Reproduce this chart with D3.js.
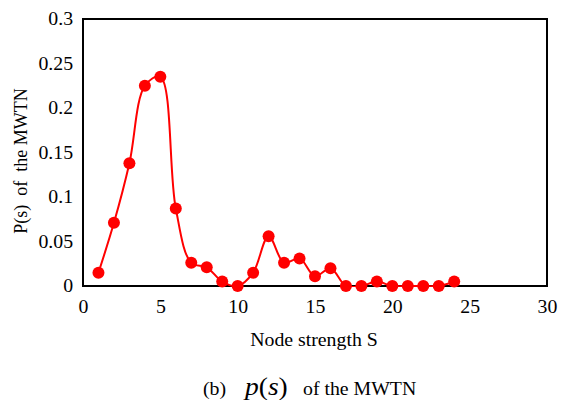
<!DOCTYPE html>
<html>
<head>
<meta charset="utf-8">
<script src="https://cdn.jsdelivr.net/npm/d3@7"></script>
<style>
  body { margin: 0; background: #fff; }
  svg text { font-family: "Liberation Serif", "Times New Roman", "DejaVu Serif", serif !important; fill: #000; }
</style>
</head>
<body>
<div id="chart"></div>
<script>
// Data
const strength = [1, 2, 3, 4, 5, 6, 7, 8, 9, 10, 11, 12, 13, 14, 15, 16, 17, 18, 19, 20, 21, 22, 23, 24];
const probability = [0.015, 0.071, 0.138, 0.225, 0.235, 0.087, 0.026, 0.021, 0.005, 0, 0.015, 0.056,
                     0.026, 0.031, 0.011, 0.020, 0, 0, 0.005, 0, 0, 0, 0, 0.005];
const xTicks = [0, 5, 10, 15, 20, 25, 30];
const yTicks = [0, 0.05, 0.1, 0.15, 0.2, 0.25, 0.3];

const W = 562, H = 400;
const margin = { top: 19, right: 15, bottom: 114, left: 83 };
const width = W - margin.left - margin.right;
const height = H - margin.top - margin.bottom;
const stretch = 1.1; // the reference text is slightly wide

const svg = d3.select("#chart").append("svg")
    .attr("width", W)
    .attr("height", H);

const g = svg.append("g").attr("transform", `translate(${margin.left},${margin.top})`);

const x = d3.scaleLinear().domain([0, 30]).range([0, width]);
const y = d3.scaleLinear().domain([0, 0.3]).range([height, 0]);

const data = strength.map((s, i) => ({ s, p: probability[i] }));

// frame
g.append("rect")
    .attr("width", width)
    .attr("height", height)
    .attr("fill", "none")
    .attr("stroke", "#000")
    .attr("stroke-width", 2);

// axes (labels only)
const xAxis = g.append("g")
    .attr("transform", `translate(0,${height})`)
    .call(d3.axisBottom(x).tickValues(xTicks).tickSize(0).tickPadding(14).tickFormat(d3.format("d")));
const yAxis = g.append("g")
    .call(d3.axisLeft(y).tickValues(yTicks).tickSize(0).tickPadding(9).tickFormat(d => d === 0 ? "0" : String(+d.toFixed(2))));
[xAxis, yAxis].forEach(a => {
    a.attr("font-family", null).attr("font-size", null);
    a.select(".domain").remove();
    a.selectAll("text")
        .attr("font-size", 18)
        .attr("transform", `scale(${stretch},1)`);
});

// smoothed line
const line = d3.line()
    .x(d => x(d.s))
    .y(d => y(d.p))
    .curve(d3.curveCatmullRom.alpha(0.5));

g.append("clipPath").attr("id", "clip")
    .append("rect").attr("width", width).attr("height", height + 1);

g.append("path")
    .datum(data)
    .attr("clip-path", "url(#clip)")
    .attr("d", line)
    .attr("fill", "none")
    .attr("stroke", "#ff0000")
    .attr("stroke-width", 2);

g.selectAll(".dot").data(data).enter().append("circle")
    .attr("class", "dot")
    .attr("cx", d => x(d.s))
    .attr("cy", d => y(d.p))
    .attr("r", 6)
    .attr("fill", "#ff0000");

// axis titles
svg.append("text")
    .attr("transform", `translate(${margin.left + width / 2 - 1},346) scale(${stretch},1)`)
    .attr("text-anchor", "middle")
    .attr("font-size", 18)
    .text("Node strength S");

svg.append("text")
    .attr("transform", `translate(27,161) rotate(-90)`)
    .attr("text-anchor", "middle")
    .attr("font-size", 18)
    .attr("xml:space", "preserve")
    .text("P(s)  of  the MWTN");

// caption
svg.append("text")
    .attr("transform", `translate(203,395) scale(${stretch},1)`)
    .attr("font-size", 18)
    .text("(b)");

const ps = svg.append("text")
    .attr("transform", `translate(245,395) scale(${stretch},1)`)
    .attr("font-size", 25);
ps.append("tspan").attr("font-style", "italic").text("p");
ps.append("tspan").text("(");
ps.append("tspan").attr("font-style", "italic").text("s");
ps.append("tspan").text(")");

svg.append("text")
    .attr("transform", `translate(303,395) scale(${stretch},1)`)
    .attr("font-size", 18)
    .text("of the MWTN");
</script>
</body>
</html>
